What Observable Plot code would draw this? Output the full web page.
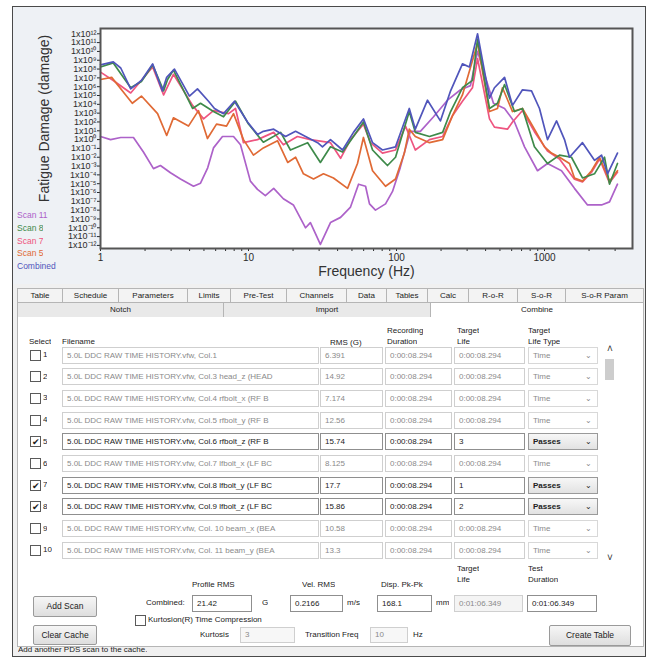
<!DOCTYPE html>
<html><head><meta charset="utf-8">
<script src="https://cdn.jsdelivr.net/npm/d3@7"></script>
<script src="https://cdn.jsdelivr.net/npm/@observablehq/plot@0.6"></script>
<style>
body{margin:0;background:#fff;width:652px;height:667px;overflow:hidden;font-family:"Liberation Sans",Arial,sans-serif;}
#app{position:absolute;left:0;top:0;width:652px;height:667px;}
.a{position:absolute;white-space:nowrap;overflow:hidden;box-sizing:border-box;}
.t{font-size:8px;color:#222;line-height:12px;height:12px;}
.box{background:#fff;border:1px solid #cfcfcf;font-size:8px;color:#8a8a8a;padding-left:4px;}
.box.on{border-color:#8f8f8f;color:#222;}
.tab{background:#f3f3f3;border:1px solid #b5b5b5;font-size:8px;color:#222;text-align:center;}
.btn{background:linear-gradient(#f6f6f6,#dedede);border:1px solid #9a9a9a;border-radius:2px;font-size:8.5px;color:#222;text-align:center;}
.cb{width:11px;height:11px;border:1px solid #5a5a5a;background:#fff;font-size:9px;line-height:9px;text-align:center;color:#222;}
.dd{background:#fff;border:1px solid #d8d8d8;font-size:8px;color:#8a8a8a;padding-left:4px;}
.dd.on{background:linear-gradient(#f7f7f7,#e2e2e2);border-color:#9a9a9a;color:#222;font-weight:bold;}
</style></head>
<body><div id="app"></div>
<script>
// ---------- chart data: [frequency Hz, log10 of fatigue damage] ----------
const scan11 = [[1,0.35],[1.17,0.0],[1.37,0.24],[1.67,0.24],[1.95,-1.41],[2.28,-3.29],[2.54,-2.94],[2.97,-3.76],[3.47,-4.47],[4.25,-5.29],[4.74,-4.94],[5.3,-3.2],[5.8,-0.94],[6.67,0.35],[7.92,0.35],[8.83,-0.59],[10.3,-4.71],[11.5,-5.65],[13.0,-6.35],[14.8,-5.53],[17.2,-6.71],[20.1,-7.41],[24.3,-10.0],[26.2,-9.41],[30.6,-11.88],[35.8,-9.41],[41.9,-8.82],[48.9,-7.65],[55.4,-5.06],[61.8,-5.29],[65.7,-7.29],[72.1,-8.0],[84.3,-7.29],[94,-5.88],[106,-3.18],[124,0.94],[145,0.94],[178,2.59],[221,4.47],[271,5.65],[316,6.12],[353,10.0],[452,4.12],[537,3.53],[627,2.0],[733,-0.82],[897,-3.53],[1048,-2.71],[1303,-3.53],[1594,-5.53],[1953,-7.41],[2428,-7.41],[2750,-7.06],[3112,-5.06]];
const scan8 = [[1,8.24],[1.22,8.7],[1.6,5.88],[1.89,6.59],[2.25,8.47],[2.67,5.53],[2.84,6.82],[3.11,7.88],[4.19,3.53],[4.74,4.12],[5.8,3.18],[6.78,2.59],[8.17,4.35],[10,1.76],[12.6,-0.3],[16.5,0.82],[19.2,-1.18],[25.1,-0.35],[30.6,-2.59],[35.8,-0.82],[43.2,-1.41],[51.2,0.35],[59.8,2.0],[68.9,-1.18],[80.4,-2.35],[86.9,-2.94],[98.5,-2.0],[122,3.18],[134,0.82],[167,0.35],[205,0.82],[232,3.18],[279,5.88],[326,6.71],[353,11.41],[425,3.53],[481,4.12],[537,6.24],[627,3.18],[710,3.53],[855,-0.82],[1048,-2.71],[1263,-1.76],[1521,-2.0],[1806,-4.35],[2177,-3.88],[2543,-2.0],[2750,-5.06],[3112,-2.71]];
const scan7 = [[1,7.65],[1.22,6.71],[1.6,5.29],[2.25,8.24],[2.67,5.06],[3.11,7.41],[4.19,3.88],[4.97,2.35],[5.8,3.29],[7.33,2.94],[8.17,3.53],[9.25,-0.35],[11.5,0.0],[14.8,0.82],[17.2,-0.59],[21.4,0.35],[26.2,0.0],[35.8,-0.35],[41.9,-2.12],[48.9,0.0],[59.8,1.76],[66.7,-0.35],[80.4,-1.53],[98.5,-1.18],[115,1.53],[134,-1.18],[167,0.0],[205,0.35],[239,2.71],[279,4.35],[326,5.88],[353,9.18],[425,2.35],[459,1.41],[562,1.18],[608,2.0],[710,3.3],[855,0.9],[1048,-1.3],[1263,-2.2],[1594,-4.5],[1806,-4.8],[2079,-3.7],[2355,-2.2],[2750,-4.9],[3112,-3.7]];
const scan5 = [[1,6.82],[1.19,7.06],[1.48,5.06],[1.64,4.12],[1.89,4.94],[2.43,2.94],[2.8,0.47],[3.11,2.47],[3.93,1.53],[4.59,3.29],[5.28,0.12],[6.08,1.76],[7.1,1.53],[7.92,2.94],[9.25,0.0],[10.8,-1.76],[12.6,-0.94],[15.7,-0.12],[18.4,-2.59],[20.8,-2.0],[23.5,-3.88],[27.5,-4.47],[32.1,-3.88],[37.5,-4.35],[46.7,-5.53],[54.5,-2.71],[59.8,0.24],[68.9,-3.53],[84.3,-5.29],[98.5,-4.47],[113,-1.53],[122,1.18],[134,0.35],[167,-0.35],[205,0.0],[239,2.71],[279,5.06],[353,10.94],[425,3.18],[481,3.53],[520,5.88],[608,3.18],[710,3.53],[855,1.18],[1000,-0.82],[1115,-1.53],[1263,-2.0],[1475,-2.71],[1594,-4.35],[1806,-4.71],[2079,-3.53],[2355,-2.0],[2750,-4.71],[3112,-3.53]];
const combined = [[1,8.47],[1.22,8.82],[1.37,8.12],[1.6,5.76],[1.89,6.71],[2.25,8.59],[2.62,5.53],[2.8,7.06],[3.16,8.0],[3.99,4.94],[4.52,5.76],[5.37,4.35],[5.89,3.53],[6.78,2.94],[8.04,4.35],[9.85,2.0],[11.5,0.59],[12.6,0.94],[14.8,1.18],[17.8,0.35],[20.8,0.94],[24.3,0.35],[29.3,-0.35],[31.6,-0.82],[35.8,0.0],[43.2,-1.18],[51.2,0.82],[59.8,2.35],[68.9,-0.35],[80.4,-1.18],[98.5,-0.82],[122,3.53],[134,1.18],[162,4.47],[198,2.12],[232,5.53],[279,8.59],[311,8.24],[353,12.0],[425,4.71],[459,5.88],[537,7.06],[608,3.88],[710,5.65],[817,5.53],[925,3.53],[1048,0.0],[1206,2.12],[1365,0.0],[1475,-2.0],[1806,-0.35],[2177,-2.35],[2428,-1.76],[2667,-3.88],[3112,-1.53]];
const seriesNames = ["Scan 11","Scan 8","Scan 7","Scan 5","Combined"];
const seriesColors = ["#ad62c9","#3e8a4a","#ee5580","#e06a35","#5055bb"];
const drawOrder = ["Scan 11","Scan 7","Scan 5","Scan 8","Combined"];
const xTickValues = [1,2,3,4,5,6,7,8,9,10,20,30,40,50,60,70,80,90,100,200,300,400,500,600,700,800,900,1000,2000,3000];
const xTickLabels = [1,10,100,1000];
const yTickExponents = d3.range(-12,13);
const xLabel = "Frequency (Hz)";
const yLabel = "Fatigue Damage (damage)";

// ---------- table data ----------
const rowNumbers = [1,2,3,4,5,6,7,8,9,10];
const fileNames = [
 "5.0L DDC RAW TIME HISTORY.vfw, Col.1",
 "5.0L DDC RAW TIME HISTORY.vfw, Col.3 head_z (HEAD",
 "5.0L DDC RAW TIME HISTORY.vfw, Col.4 rfbolt_x (RF B",
 "5.0L DDC RAW TIME HISTORY.vfw, Col.5 rfbolt_y (RF B",
 "5.0L DDC RAW TIME HISTORY.vfw, Col.6 rfbolt_z (RF B",
 "5.0L DDC RAW TIME HISTORY.vfw, Col.7 lfbolt_x (LF BC",
 "5.0L DDC RAW TIME HISTORY.vfw, Col.8 lfbolt_y (LF BC",
 "5.0L DDC RAW TIME HISTORY.vfw, Col.9 lfbolt_z (LF BC",
 "5.0L DDC RAW TIME HISTORY.vfw, Col. 10 beam_x (BEA",
 "5.0L DDC RAW TIME HISTORY.vfw, Col. 11 beam_y (BEA"];
const rmsValues = ["6.391","14.92","7.174","12.56","15.74","8.125","17.7","15.86","10.58","13.3"];
const recordingDurations = Array(10).fill("0:00:08.294");
const targetLives = ["0:00:08.294","0:00:08.294","0:00:08.294","0:00:08.294","3","0:00:08.294","1","2","0:00:08.294","0:00:08.294"];
const lifeTypes = ["Time","Time","Time","Time","Passes","Time","Passes","Passes","Time","Time"];
const selected = [false,false,false,false,true,false,true,true,false,false];
const tabsRow1 = ["Table","Schedule","Parameters","Limits","Pre-Test","Channels","Data","Tables","Calc","R-o-R","S-o-R","S-o-R Param"];
const tabsRow2 = ["Notch","Import","Combine"];

// ---------- helpers ----------
const app = document.getElementById("app");
function div(cls, x, y, w, h, text, style) {
  const d = document.createElement("div");
  d.className = "a " + cls;
  d.style.left = x + "px"; d.style.top = y + "px";
  if (w != null) d.style.width = w + "px";
  if (h != null) { d.style.height = h + "px"; d.style.lineHeight = (h - 2) + "px"; }
  if (text != null) d.innerHTML = text;
  if (style) Object.assign(d.style, style);
  app.appendChild(d);
  return d;
}
function txt(x, yc, text, style) { return div("t", x, yc - 6, null, null, text, style); }

// outer frame & panels
div("", 12, 6, 634, 651, null, {border:"1px solid #4a4a4a", background:"#f0f0f0"});
div("", 13, 7, 632, 277, null, {background:"#eef1f5"});

// ---------- chart ----------
const sup = {"-":"⁻","0":"⁰","1":"¹","2":"²","3":"³","4":"⁴","5":"⁵","6":"⁶","7":"⁷","8":"⁸","9":"⁹"};
const seriesArrays = {"Scan 11":scan11,"Scan 8":scan8,"Scan 7":scan7,"Scan 5":scan5,"Combined":combined};
const rows = drawOrder.flatMap(s => seriesArrays[s].map(([f, e]) => ({f, d: Math.pow(10, e), s})));

const chart = Plot.plot({
  width: 629, height: 274,
  marginLeft: 86, marginRight: 11, marginTop: 20, marginBottom: 34,
  style: {background: "transparent", fontFamily: "'Liberation Sans', Arial, sans-serif", fontSize: "9px", color: "#2a2a2a"},
  x: {type: "log", domain: [1, Math.pow(10, 532/148)], ticks: xTickValues, tickSize: 3, tickPadding: 2,
      tickFormat: d => xTickLabels.includes(d) ? String(d) : "", label: null},
  y: {type: "log", domain: [Math.pow(10, -12.35), Math.pow(10, 12.6)], ticks: yTickExponents.map(e => Math.pow(10, e)),
      tickSize: 3, tickPadding: 1, label: null,
      tickFormat: d => "1x10" + String(Math.round(Math.log10(d))).split("").map(c => sup[c]).join("")},
  color: {domain: seriesNames, range: seriesColors},
  marks: [
    Plot.frame({fill: "white"}),
    Plot.line(rows, {x: "f", y: "d", z: "s", stroke: "s", strokeWidth: 1.7}),
    Plot.frame({stroke: "#555", strokeWidth: 2}),
    Plot.text([yLabel], {frameAnchor: "left", textAnchor: "middle", dx: -56, dy: -20, rotate: -90, fontSize: 14, fill: "#333"}),
    Plot.text([xLabel], {frameAnchor: "bottom", textAnchor: "middle", dy: 27, fontSize: 14, fill: "#333"})
  ]
});
chart.style.position = "absolute"; chart.style.left = "14px"; chart.style.top = "8px";
app.appendChild(chart);
// x tick labels a little larger than the dense y tick labels
d3.select(chart).selectAll("g[aria-label='x-axis'] text, g[aria-label='x-axis tick label'] text").attr("font-size", 10);

// legend
const legendY = [215, 228, 241, 253, 266];
seriesNames.forEach((n, i) => txt(17, legendY[i], n, {color: seriesColors[i], fontSize: "8.5px"}));

// ---------- tabs ----------
const tabX = [17, 62, 118, 187, 230, 286, 346, 386, 427, 468, 517, 565, 643];
tabsRow1.forEach((t, i) => div("tab", tabX[i], 288, tabX[i+1] - tabX[i] + 1, 15, t));
const tab2X = [17, 223, 430, 643];
tabsRow2.forEach((t, i) => div("tab", tab2X[i], 302, tab2X[i+1] - tab2X[i] + 1, 16, t,
  i === 2 ? {background: "#fff", borderBottomColor: "#fff"} : {background: "#e9e9e9"}));
div("", 17, 317, 627, 330, null, {background: "#fff", border: "1px solid #b5b5b5", borderTop: "none"});

// headers
txt(29, 342, "Select"); txt(62, 342, "Filename");
txt(330, 343, "RMS (G)");
txt(387, 331, "Recording"); txt(387, 342, "Duration");
txt(457, 331, "Target"); txt(457, 342, "Life");
txt(528, 331, "Target"); txt(528, 342, "Life Type");

// rows
rowNumbers.forEach((n, i) => {
  const yc = 355 + i * 21.7;
  const on = selected[i];
  div("cb", 30, yc - 5.5, null, null, on ? "✔" : "", {fontSize: "9px", lineHeight: "10px"});
  txt(43, yc, String(n), {color: "#222"});
  div("box" + (on ? " on" : ""), 62, yc - 8.5, 257, 17, fileNames[i]);
  div("box" + (on ? " on" : ""), 320, yc - 8.5, 63, 17, rmsValues[i]);
  div("box" + (on ? " on" : ""), 385, yc - 8.5, 67, 17, recordingDurations[i]);
  div("box" + (on ? " on" : ""), 454, yc - 8.5, 71, 17, targetLives[i]);
  div("dd" + (on ? " on" : ""), 528, yc - 8.5, 70, 17, lifeTypes[i] + '<span style="position:absolute;right:5px;font-weight:normal;">⌄</span>');
});
// scrollbar
txt(607, 349, "˄", {fontSize: "10px", color: "#333"});
div("", 605, 359, 9, 21, null, {background: "#cdcdcd"});
txt(607, 558, "˅", {fontSize: "10px", color: "#333"});

// bottom controls
txt(457, 569, "Target"); txt(457, 580, "Life");
txt(528, 569, "Test"); txt(528, 580, "Duration");
txt(192, 585, "Profile RMS"); txt(302, 585, "Vel. RMS"); txt(381, 585, "Disp. Pk-Pk");
txt(146, 603, "Combined:");
div("box on", 192, 595, 60, 17, "21.42"); txt(262, 603, "G");
div("box on", 290, 595, 53, 17, "0.2166"); txt(347, 603, "m/s");
div("box on", 377, 595, 55, 17, "168.1"); txt(436, 603, "mm");
div("box", 454, 595, 69, 17, "0:01:06.349", {background: "#f4f4f4"});
div("box on", 527, 595, 70, 17, "0:01:06.349");
div("btn", 33, 596, 64, 21, "Add Scan");
div("cb", 135, 615, null, null, "");
txt(148, 620, "Kurtosion(R) Time Compression");
div("btn", 33, 625, 64, 20, "Clear Cache");
txt(200, 635, "Kurtosis");
div("box", 240, 627, 55, 16, "3", {background: "#f7f7f7"});
txt(305, 635, "Transition Freq");
div("box", 370, 627, 38, 16, "10", {background: "#f7f7f7"});
txt(413, 635, "Hz");
div("btn", 549, 625, 82, 21, "Create Table");
txt(18, 650, "Add another PDS scan to the cache.");
</script>
</body></html>
